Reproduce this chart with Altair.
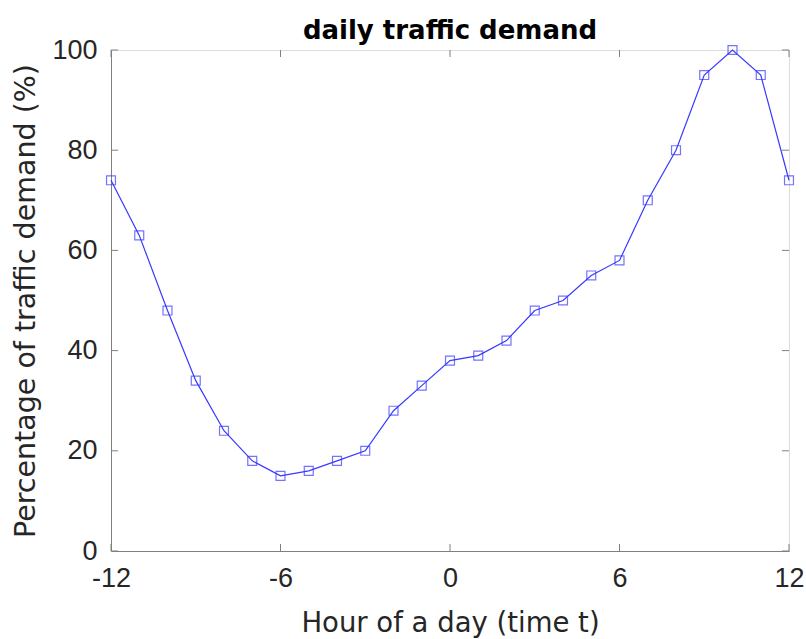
import altair as alt
import pandas as pd

hours = list(range(-12, 13))
demand = [74, 63, 48, 34, 24, 18, 15, 16, 18, 20, 28, 33, 38, 39, 42, 48, 50, 55, 58, 70, 80, 95, 100, 95, 74]
x_ticks = [-12, -6, 0, 6, 12]
y_ticks = [0, 20, 40, 60, 80, 100]

df = pd.DataFrame({"hour": hours, "demand": demand})
xt = pd.DataFrame({"t": x_ticks})
yt = pd.DataFrame({"t": y_ticks})

LFONT = "Liberation Sans, Arial, sans-serif"
TFONT = "DejaVu Sans, Liberation Sans, sans-serif"
TXT = "#262626"
AX = "#808080"

xs = alt.Scale(domain=[-12, 12], nice=False, zero=False)
ys = alt.Scale(domain=[0, 100], nice=False)

xaxis = alt.Axis(values=x_ticks, title="Hour of a day (time t)", grid=False, tickSize=0,
                 labelPadding=14, titlePadding=18, labelFontSize=27, titleFontSize=27.5,
                 labelFont=LFONT, titleFont=TFONT, labelColor=TXT, titleColor=TXT,
                 labelExpr="toString(datum.value)",
                 titleFontWeight="normal", domainColor=AX, labelFlush=False)
yaxis = alt.Axis(values=y_ticks, title="Percentage of traffic demand (%)", grid=False, tickSize=0,
                 labelPadding=14, titlePadding=11, labelFontSize=27, titleFontSize=28.5,
                 labelFont=LFONT, titleFont=TFONT, labelColor=TXT, titleColor=TXT,
                 titleFontWeight="normal", domainColor=AX, labelFlush=False)

line = alt.Chart(df).mark_line(color="#3838ff", strokeWidth=1.2).encode(
    x=alt.X("hour:Q", scale=xs, axis=xaxis),
    y=alt.Y("demand:Q", scale=ys, axis=yaxis),
)
pts = alt.Chart(df).mark_point(shape="square", filled=False, color="#3838ff", size=80, strokeWidth=1.2).encode(
    x=alt.X("hour:Q", scale=xs), y=alt.Y("demand:Q", scale=ys)
)

bt = alt.Chart(xt).mark_rule(color=AX, strokeWidth=1).encode(
    x=alt.X("t:Q", scale=xs), y=alt.datum(0), y2=alt.datum(1.4))
tt = alt.Chart(xt).mark_rule(color=AX, strokeWidth=1).encode(
    x=alt.X("t:Q", scale=xs), y=alt.datum(100), y2=alt.datum(98.6))
lt = alt.Chart(yt).mark_rule(color=AX, strokeWidth=1).encode(
    y=alt.Y("t:Q", scale=ys), x=alt.datum(-12), x2=alt.datum(-11.75))
rt = alt.Chart(yt).mark_rule(color=AX, strokeWidth=1).encode(
    y=alt.Y("t:Q", scale=ys), x=alt.datum(12), x2=alt.datum(11.75))

chart = alt.layer(bt, tt, lt, rt, line, pts).properties(
    width=678, height=501,
    title=alt.TitleParams("daily traffic demand", font="DejaVu Sans, Liberation Sans, sans-serif",
                          fontSize=26, fontWeight="bold", color="#000000", anchor="middle", offset=-8),
    autosize=alt.AutoSizeParams(type="none"),
    padding={"left": 111, "top": 50, "right": 17, "bottom": 88},
).configure_view(stroke=AX, strokeWidth=1).configure(background="white")

chart.save("out.html", embed_options={"renderer": "svg", "actions": False})
